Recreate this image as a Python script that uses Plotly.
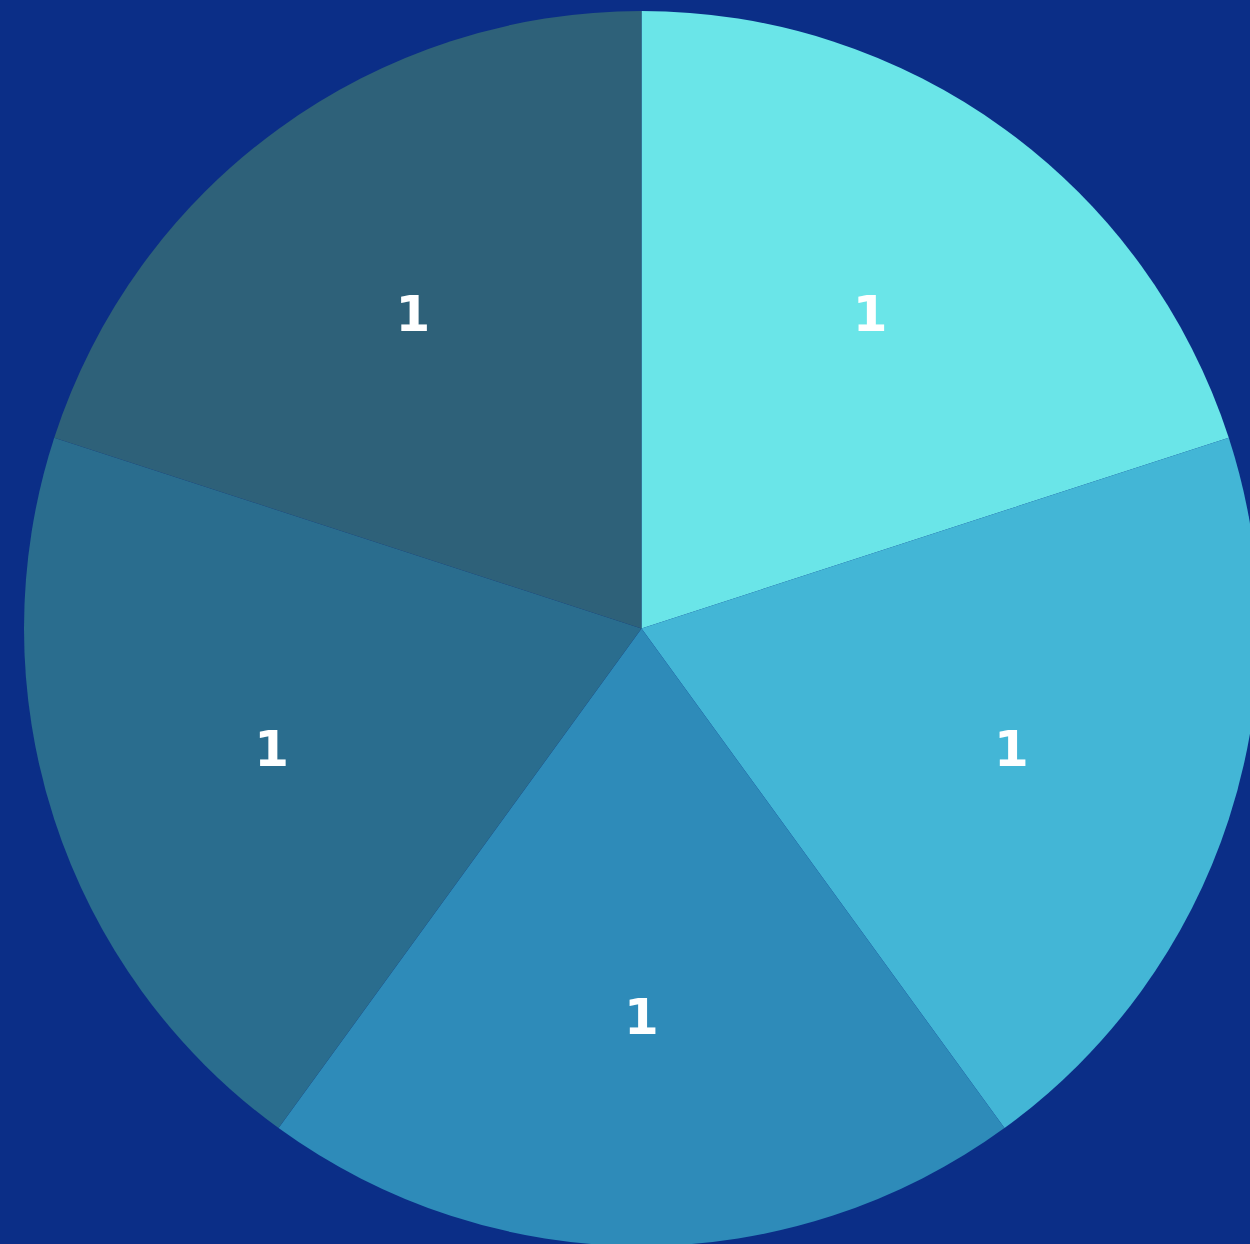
import plotly.graph_objects as go

# Five equal segments, drawn clockwise from 12 o'clock
categories = ["Segment 1", "Segment 2", "Segment 3", "Segment 4", "Segment 5"]
values = [1, 1, 1, 1, 1]
colors = ["#6ae5e8", "#43b6d6", "#2e8bb9", "#2a6d8e", "#2e6179"]

BG = "#0b2e87"

fig = go.Figure(
    go.Pie(
        labels=categories,
        values=values,
        sort=False,
        direction="clockwise",
        rotation=0,
        marker=dict(colors=colors, line=dict(width=0)),
        textinfo="value",
        textposition="inside",
        insidetextorientation="horizontal",
        textfont=dict(family="DejaVu Sans", size=50, color="white", weight="bold"),
        showlegend=False,
        hoverinfo="label+value",
    )
)

fig.update_layout(
    width=1284,
    height=1258,
    autosize=False,
    margin=dict(l=24, r=25, t=11, b=12, pad=0),
    paper_bgcolor=BG,
    plot_bgcolor=BG,
)

# The chart is wider than the viewport; keep the page from scrolling.
fig.write_html(
    "out.html",
    post_script="document.documentElement.style.overflow='hidden';"
                "document.body.style.overflow='hidden';"
                "document.body.style.margin='0';"
                f"document.body.style.background='{BG}';",
)
